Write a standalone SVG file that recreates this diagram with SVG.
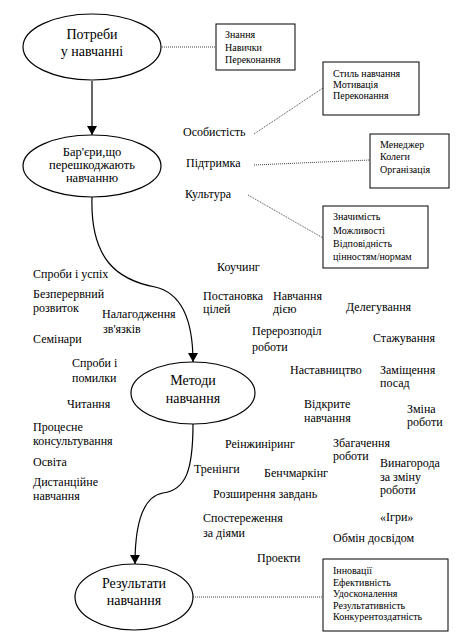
<svg xmlns="http://www.w3.org/2000/svg" width="471" height="636" viewBox="0 0 471 636">
<style>
text{font-family:'Liberation Serif','Times New Roman',serif;fill:#000}
.e{fill:#fff;stroke:#000;stroke-width:1.2}
.et{font-size:14px;text-anchor:middle}
.et2{font-size:12.5px;text-anchor:middle}
.b{fill:#fff;stroke:#000;stroke-width:1}
.bt{font-size:10px}
.m{font-size:12px}
.c{fill:none;stroke:#000;stroke-width:1.2}
.d{fill:none;stroke:#444;stroke-width:1;stroke-dasharray:1,1}
</style>
<defs>
<marker id="ah" markerUnits="userSpaceOnUse" markerWidth="9" markerHeight="10" refX="9" refY="5" orient="auto">
<path d="M0,0 L9,5 L0,10 z" fill="#000"/>
</marker>
</defs>
<rect width="471" height="636" fill="#fff"/>
<g id="connectors">
<line class="c" x1="92" y1="81" x2="92" y2="135" marker-end="url(#ah)"/>
<path class="c" d="M92,197 C90,260 118,280 155,287 C186,294 193,330 193,362" marker-end="url(#ah)"/>
<path class="c" d="M193,424 C193,470 186,490 163,493 C140,497 135,530 135,564" marker-end="url(#ah)"/>
<line class="d" x1="162" y1="47" x2="216" y2="47"/>
<line class="d" x1="254" y1="134" x2="323" y2="88"/>
<line class="d" x1="254" y1="165" x2="370" y2="160"/>
<line class="d" x1="248" y1="195" x2="323" y2="238"/>
<line class="d" x1="193" y1="597" x2="323" y2="597"/>
</g>
<g id="n-needs">
<ellipse class="e" cx="92" cy="47" rx="69" ry="33"/>
<text class="et" x="92" y="39">Потреби</text>
<text class="et" x="92" y="56">у навчанні</text>
</g>
<g id="n-needs-box">
<rect class="b" x="216" y="24" width="79" height="46"/>
<text class="bt" x="225" y="38">Знання</text>
<text class="bt" x="225" y="51">Навички</text>
<text class="bt" x="225" y="63">Переконання</text>
</g>
<g id="n-barriers">
<ellipse class="e" cx="92" cy="166" rx="69" ry="31"/>
<text class="et2" x="92" y="156">Бар'єри,що</text>
<text class="et2" x="92" y="169">перешкоджають</text>
<text class="et2" x="92" y="182">навчанню</text>
</g>
<g id="n-barrier-labels">
<text class="m" x="183" y="136">Особистість</text>
<text class="m" x="186" y="167">Підтримка</text>
<text class="m" x="185" y="198">Культура</text>
</g>
<g id="n-box-personality">
<rect class="b" x="323" y="62" width="96" height="53"/>
<text class="bt" x="333" y="77">Стиль навчання</text>
<text class="bt" x="333" y="88">Мотивація</text>
<text class="bt" x="333" y="99">Переконання</text>
</g>
<g id="n-box-support">
<rect class="b" x="370" y="134" width="79" height="54"/>
<text class="bt" x="380" y="148">Менеджер</text>
<text class="bt" x="380" y="160">Колеги</text>
<text class="bt" x="380" y="173">Організація</text>
</g>
<g id="n-box-culture">
<rect class="b" x="323" y="206" width="105" height="62"/>
<text class="bt" x="333" y="220">Значимість</text>
<text class="bt" x="333" y="234">Можливості</text>
<text class="bt" x="333" y="247">Відповідність</text>
<text class="bt" x="333" y="260">цінностям/нормам</text>
</g>
<g id="n-methods">
<ellipse class="e" cx="193" cy="393" rx="62" ry="31"/>
<text class="et" x="193" y="385">Методи</text>
<text class="et" x="193" y="403">навчання</text>
</g>
<g id="n-method-list">
<text class="m" x="33" y="278">Спроби і успіх</text>
<text class="m" x="33" y="298">Безперервний</text>
<text class="m" x="33" y="312">розвиток</text>
<text class="m" x="102" y="318">Налагодження</text>
<text class="m" x="103" y="333">зв'язків</text>
<text class="m" x="33" y="343">Семінари</text>
<text class="m" x="72" y="367">Спроби і</text>
<text class="m" x="72" y="382">помилки</text>
<text class="m" x="67" y="408">Читання</text>
<text class="m" x="33" y="431">Процесне</text>
<text class="m" x="33" y="445">консультування</text>
<text class="m" x="33" y="466">Освіта</text>
<text class="m" x="33" y="486">Дистанційне</text>
<text class="m" x="33" y="500">навчання</text>
<text class="m" x="217" y="271">Коучинг</text>
<text class="m" x="203" y="300">Постановка</text>
<text class="m" x="203" y="313">цілей</text>
<text class="m" x="273" y="300">Навчання</text>
<text class="m" x="273" y="313">дією</text>
<text class="m" x="346" y="311">Делегування</text>
<text class="m" x="252" y="335">Перерозподіл</text>
<text class="m" x="252" y="351">роботи</text>
<text class="m" x="373" y="342">Стажування</text>
<text class="m" x="290" y="374">Наставництво</text>
<text class="m" x="380" y="374">Заміщення</text>
<text class="m" x="380" y="387">посад</text>
<text class="m" x="304" y="408">Відкрите</text>
<text class="m" x="304" y="422">навчання</text>
<text class="m" x="407" y="413">Зміна</text>
<text class="m" x="407" y="426">роботи</text>
<text class="m" x="225" y="448">Реінжиніринг</text>
<text class="m" x="333" y="447">Збагачення</text>
<text class="m" x="333" y="460">роботи</text>
<text class="m" x="194" y="473">Тренінги</text>
<text class="m" x="264" y="477">Бенчмаркінг</text>
<text class="m" x="380" y="467">Винагорода</text>
<text class="m" x="380" y="481">за зміну</text>
<text class="m" x="380" y="494">роботи</text>
<text class="m" x="213" y="498">Розширення завдань</text>
<text class="m" x="203" y="522">Спостереження</text>
<text class="m" x="203" y="537">за діями</text>
<text class="m" x="380" y="521">«Ігри»</text>
<text class="m" x="333" y="542">Обмін досвідом</text>
<text class="m" x="257" y="562">Проекти</text>
</g>
<g id="n-results">
<ellipse class="e" cx="134" cy="597" rx="59" ry="33"/>
<text class="et" x="134" y="588">Результати</text>
<text class="et" x="134" y="605">навчання</text>
</g>
<g id="n-results-box">
<rect class="b" x="323" y="559" width="125" height="72"/>
<text class="bt" x="333" y="574">Інновації</text>
<text class="bt" x="333" y="586">Ефективність</text>
<text class="bt" x="333" y="597">Удосконалення</text>
<text class="bt" x="333" y="609">Результативність</text>
<text class="bt" x="333" y="620">Конкурентоздатність</text>
</g>
</svg>
